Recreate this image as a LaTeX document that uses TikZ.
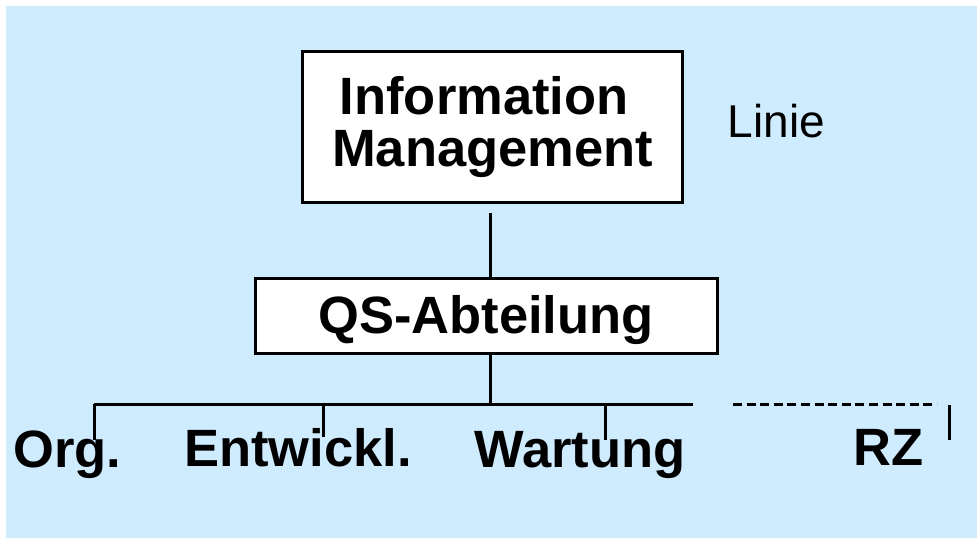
\documentclass[tikz,border=0pt]{standalone}
\usepackage{fontspec}
\setmainfont{Liberation Sans}
\usetikzlibrary{calc}
\definecolor{panelblue}{HTML}{CFEBFE}
\tikzset{
  orgbox/.style={draw=black, line width=3pt, fill=white, inner sep=0pt, align=center,
    font=\bfseries\fontsize{52.5}{52}\selectfont},
  unitlabel/.style={inner sep=0pt, anchor=base, font=\bfseries\fontsize{52.5}{52}\selectfont},
  wire/.style={draw=black, line width=3pt},
  dashwire/.style={draw=black, line width=3pt, dash pattern=on 9pt off 4.6pt}
}
\begin{document}
\begin{tikzpicture}[x=1pt, y=-1pt]
  \useasboundingbox (0,0) rectangle (977,538);
  \fill[panelblue] (6,6) rectangle (977,538);

  % hierarchy boxes
  \node[orgbox, minimum width=380pt, minimum height=151pt] (info) at (492.7,127.4)
    {Information\kern17pt\\Management};
  \node[orgbox, minimum width=462pt, minimum height=75pt, text height=40pt, text depth=5pt]
    (qs) at (486,315.5) {QS-Abteilung};
  \node[anchor=base, inner sep=0pt, font=\fontsize{46}{46}\selectfont] (linie) at (776.5,137) {Linie};

  % branch points
  \coordinate (hub) at (490.7,404);
  \coordinate (barL) at (94,404);
  \coordinate (barR) at (693,404);
  \coordinate (tickOrg) at (94,440);
  \coordinate (tickEnt) at (323,437);
  \coordinate (tickWar) at (605,440);
  \coordinate (dashL) at (733,404);
  \coordinate (dashR) at (937,404);
  \coordinate (rzTop) at (949,405);
  \coordinate (rzBot) at (949,440);

  % connectors
  \draw[wire] ($(info.south -| hub)+(0,9)$) -- (qs.north -| hub);
  \draw[wire] (qs.south -| hub) -- (hub);
  \draw[wire] (barL) -- (barR);
  \draw[wire] (barL) -- (tickOrg);
  \draw[wire] (tickEnt |- barL) -- (tickEnt);
  \draw[wire] (tickWar |- barL) -- (tickWar);
  \draw[dashwire] (dashL) -- (dashR);
  \draw[wire] (rzTop) -- (rzBot);

  % units
  \node[unitlabel] (org) at (67.5,467) {Org.};
  \node[unitlabel] (ent) at (298,466) {Entwickl.};
  \node[unitlabel] (war) at (580,467) {Wartung};
  \node[unitlabel] (rz) at (888.5,465) {RZ};
\end{tikzpicture}
\end{document}
